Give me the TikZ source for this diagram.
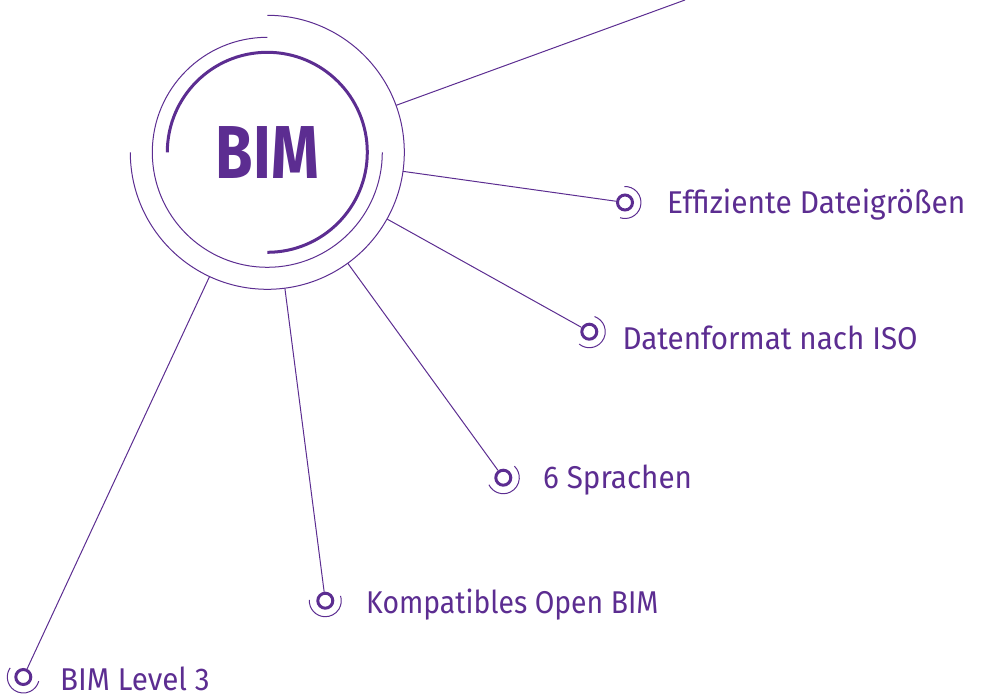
\documentclass[tikz,border=0pt]{standalone}
\usepackage{fontspec}
\usepackage{graphicx}
\usetikzlibrary{calc}
\setmainfont{Fira Sans}
\definecolor{pp}{HTML}{5C2D91}
\newcommand{\sq}[1]{\scalebox{0.94}[1]{#1}}
\begin{document}
\begin{tikzpicture}[x=1pt,y=1pt,
  hair/.style={draw=pp, line width=1pt},
  bul/.style={circle, draw=pp, line width=3pt, minimum size=15pt, inner sep=0pt},
  lbl/.style={anchor=base west, inner sep=0pt, text=pp, font=\fontsize{31.5}{36}\selectfont},
]
\useasboundingbox (0,0) rectangle (985,-696);
\coordinate (C) at (267.3,-152.3);
% central node
\node[circle, minimum size=274pt, inner sep=0pt, text=pp,
      font=\bfseries\fontsize{75}{80}\selectfont] (c) at (C) {\raisebox{-2pt}{\scalebox{0.81}[1]{BIM}}};
% rings
\draw[hair] ($(C)+(0,115)$) arc[start angle=90, end angle=360, radius=115];
\draw[hair] ($(C)+(-137,0)$) arc[start angle=-180, end angle=90, radius=137];
\draw[draw=pp, line width=3pt] ($(C)+(-100,0)$) arc[start angle=180, end angle=-90, radius=100];
% bullets
\node[bul] (b1) at (625,-202.5) {};
\node[bul] (b2) at (589.3,-331.7) {};
\node[bul] (b3) at (503.3,-477.7) {};
\node[bul] (b4) at (325.3,-600.7) {};
\node[bul] (b5) at (23.3,-677) {};
\coordinate (tr) at (685,0);
% connectors
\draw[hair] (c) -- (tr);
\foreach \b in {b1,b2,b3,b4,b5} { \draw[hair] (c) -- (\b); }
% bullet outer arcs
\foreach \b/\o in {b1/-8, b2/-29.1, b3/-54, b4/-82.6, b5/245.1} {
  \draw[hair] (\b.center) ++(\o-100:16) arc[start angle=\o-100, end angle=\o+100, radius=16];
}
% labels
\node[lbl] (t1) at (667,-213.3) {\scalebox{0.95}[1]{Effiziente Dateigrößen}};
\node[lbl] (t2) at (622.3,-349.3) {\sq{Datenformat nach ISO}};
\node[lbl] (t3) at (543,-488.5) {\sq{6 Sprachen}};
\node[lbl] (t4) at (366,-613.3) {\scalebox{0.9}[1]{Kompatibles Open BIM}};
\node[lbl] (t5) at (60,-690) {\sq{BIM Level 3}};
\end{tikzpicture}
\end{document}
